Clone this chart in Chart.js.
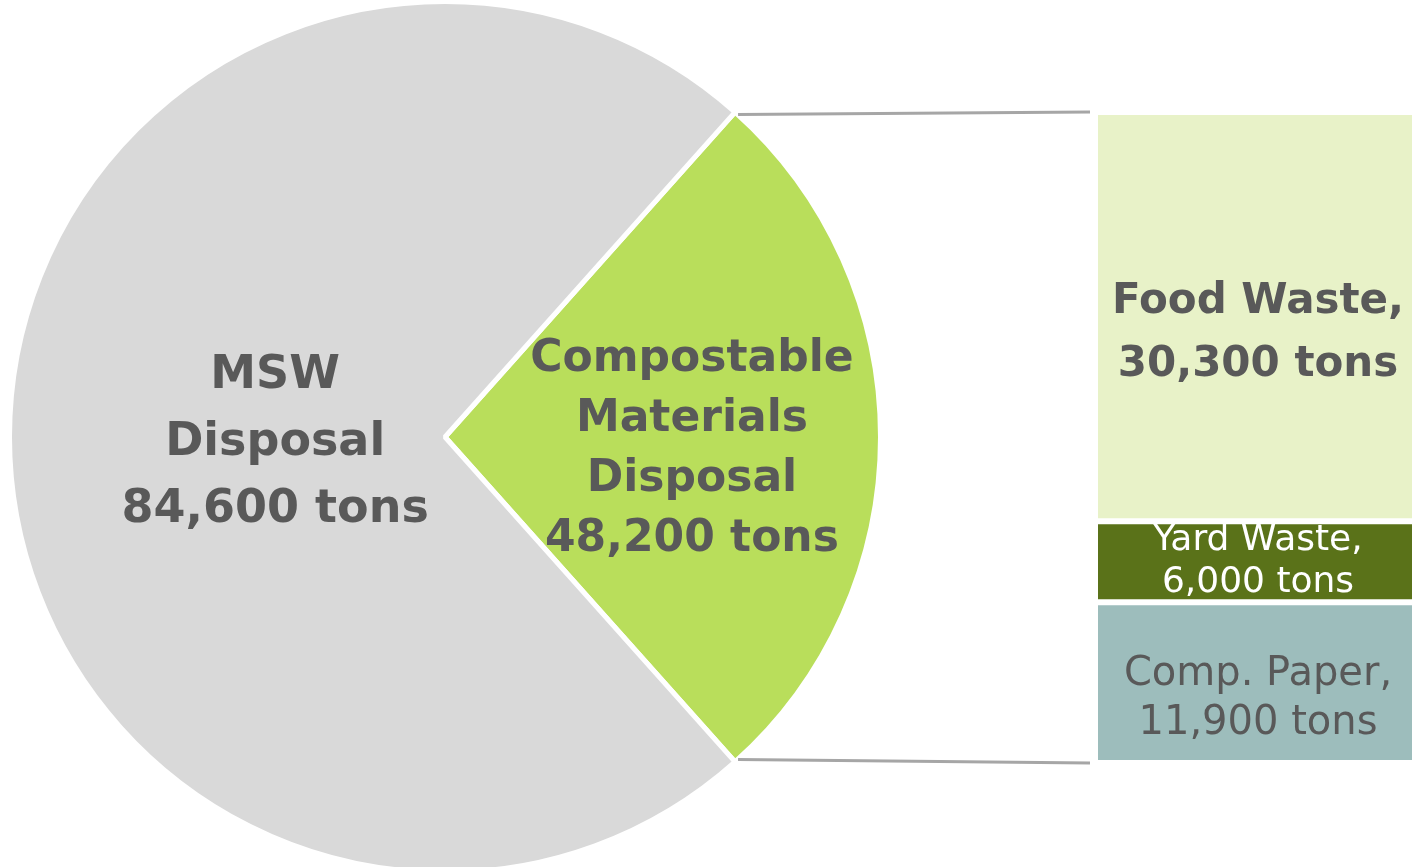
<!DOCTYPE html>
<html>
<head>
<meta charset="utf-8">
<script src="https://cdn.jsdelivr.net/npm/chart.js@4.4.1/dist/chart.umd.min.js"></script>
<style>
  html, body { margin: 0; padding: 0; background: #fff; overflow: hidden; }
  body { width: 1412px; height: 867px; position: relative; }
  #pieChart { position: absolute; left: 7px; top: -1px; }
  #barChart { position: absolute; left: 1098px; top: 112px; }
</style>
</head>
<body>
<canvas id="pieChart" width="1405" height="876"></canvas>
<canvas id="barChart" width="320" height="651"></canvas>
<script>
// pie: compostable slice first, then the rest of MSW
const pieLabels = [
    ['Compostable', 'Materials', 'Disposal', '48,200 tons'],
    ['MSW', 'Disposal', '84,600 tons'],
];
// share of the circle as drawn in the picture (percent)
const pieShares = [26.8, 73.2];
const pieColors = ['#b9de5b', '#d9d9d9'];

// bar of pie, bottom to top
const barNames = ['Comp. Paper,', 'Yard Waste,', 'Food Waste,'];
const barTons = [11900, 6000, 30300];
const barTonLabels = ['11,900 tons', '6,000 tons', '30,300 tons'];
const barColors = ['#9dbdbc', '#5a7219', '#e8f2c8'];
const barTotal = 48200;

const TEXT = '#595959';
const FONT = '"DejaVu Sans", sans-serif';
const PIE_LEFT = 7, PIE_TOP = -1, BAR_LEFT = 1098, BAR_TOP = 112;

Chart.defaults.animation = false;
Chart.defaults.devicePixelRatio = 1;

// label placement inside each bar: [font, lineHeight, color, yShift]
const barLabelStyle = [
    ['normal 40px ' + FONT, 49, TEXT, 16],
    ['normal 36px ' + FONT, 42, '#ffffff', 0],
    ['bold 42px ' + FONT, 63, TEXT, 17],
];

const barLabelPlugin = {
    id: 'barLabels',
    afterDatasetsDraw(chart) {
        const ctx = chart.ctx;
        ctx.save();
        ctx.textAlign = 'center';
        ctx.textBaseline = 'middle';
        chart.data.datasets.forEach((ds, i) => {
            const el = chart.getDatasetMeta(i).data[0];
            const [font, lh, color, shift] = barLabelStyle[i];
            const lines = [barNames[i], barTonLabels[i]];
            const cy = (el.y + el.base) / 2 + shift;
            ctx.font = font;
            ctx.fillStyle = color;
            lines.forEach((t, k) => {
                ctx.fillText(t, el.x, cy + (k - (lines.length - 1) / 2) * lh);
            });
        });
        ctx.restore();
    }
};

const barChart = new Chart(document.getElementById('barChart'), {
    type: 'bar',
    data: {
        labels: ['Compostable'],
        datasets: barNames.map((n, i) => ({
            label: n,
            data: [barTons[i]],
            backgroundColor: barColors[i],
            borderColor: '#ffffff',
            borderWidth: { top: 3, bottom: 3, left: 0, right: 0 },
            borderSkipped: false,
            inflateAmount: 0,
            barPercentage: 1,
            categoryPercentage: 1,
        }))
    },
    options: {
        responsive: false,
        layout: { padding: 0 },
        scales: {
            x: { stacked: true, display: false },
            y: { stacked: true, display: false, min: 0, max: barTotal }
        },
        plugins: { legend: { display: false }, tooltip: { enabled: false } }
    },
    plugins: [barLabelPlugin]
});

// [font, lineHeight, radius fraction, yShift] for each slice label
const pieLabelStyle = [
    ['bold 44px ' + FONT, 60, 0.567, 13],
    ['bold 46px ' + FONT, 67, 0.39, 6],
];

const pieExtras = {
    id: 'pieExtras',
    afterDatasetsDraw(chart) {
        const ctx = chart.ctx;
        const arcs = chart.getDatasetMeta(0).data;
        ctx.save();
        ctx.textAlign = 'center';
        ctx.textBaseline = 'middle';
        arcs.forEach((arc, i) => {
            const [font, lh, frac, shift] = pieLabelStyle[i];
            const mid = (arc.startAngle + arc.endAngle) / 2;
            const cx = arc.x + Math.cos(mid) * arc.outerRadius * frac;
            const cy = arc.y + Math.sin(mid) * arc.outerRadius * frac + shift;
            const lines = pieLabels[i];
            ctx.font = font;
            ctx.fillStyle = TEXT;
            lines.forEach((t, k) => {
                ctx.fillText(t, cx, cy + (k - (lines.length - 1) / 2) * lh);
            });
        });

        // connector lines from the compostable slice to the bar
        const g = arcs[0];
        const top = barChart.getDatasetMeta(2).data[0];
        const bottom = barChart.getDatasetMeta(0).data[0];
        const offX = BAR_LEFT - PIE_LEFT, offY = BAR_TOP - PIE_TOP;
        const barLeft = offX + top.x - top.width / 2 - 8;
        const r = g.outerRadius - 3;
        ctx.strokeStyle = '#a6a6a6';
        ctx.lineWidth = 3;
        ctx.beginPath();
        ctx.moveTo(g.x + Math.cos(g.startAngle) * r + 5, g.y + Math.sin(g.startAngle) * r);
        ctx.lineTo(barLeft, offY + top.y);
        ctx.moveTo(g.x + Math.cos(g.endAngle) * r + 5, g.y + Math.sin(g.endAngle) * r);
        ctx.lineTo(barLeft, offY + bottom.base);
        ctx.stroke();
        ctx.restore();
    }
};

new Chart(document.getElementById('pieChart'), {
    type: 'pie',
    data: {
        labels: ['Compostable Materials Disposal', 'MSW Disposal'],
        datasets: [{
            data: pieShares,
            backgroundColor: pieColors,
            borderColor: '#ffffff',
            borderWidth: 5,
        }]
    },
    options: {
        responsive: false,
        rotation: 90 - pieShares[0] * 3.6 / 2,
        layout: { padding: { left: 0, top: 0, bottom: 0, right: 1405 - 876 } },
        plugins: { legend: { display: false }, tooltip: { enabled: false } }
    },
    plugins: [pieExtras]
});
</script>
</body>
</html>
